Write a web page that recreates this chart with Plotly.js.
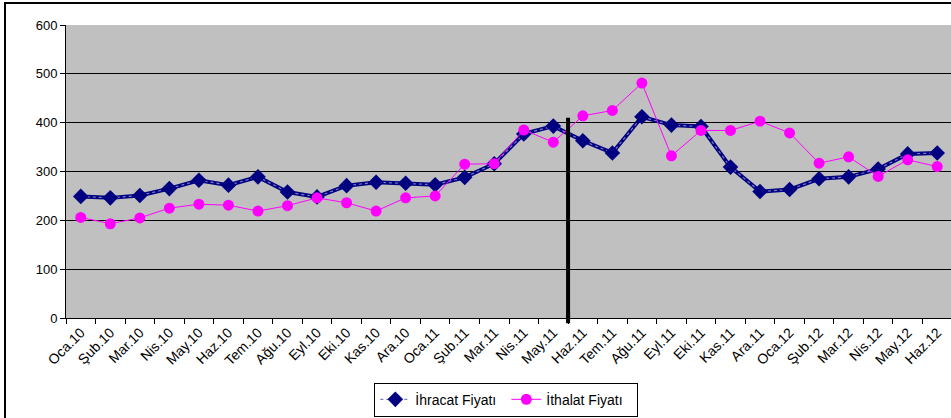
<!DOCTYPE html>
<html>
<head>
<meta charset="utf-8">
<script src="https://cdn.plot.ly/plotly-3.0.1.min.js"></script>
<style>
html,body{margin:0;padding:0;overflow:hidden;background:#fff;width:951px;height:418px;}
#chart{position:absolute;left:0;top:0;}
#frame{position:absolute;left:4px;top:2px;width:960px;height:430px;border-left:2px solid #000;border-top:2px solid #000;pointer-events:none;}
</style>
</head>
<body>
<div id="chart"></div>
<div id="frame"></div>
<script>
const months = ["Oca.10","Şub.10","Mar.10","Nis.10","May.10","Haz.10","Tem.10","Ağu.10","Eyl.10","Eki.10","Kas.10","Ara.10",
"Oca.11","Şub.11","Mar.11","Nis.11","May.11","Haz.11","Tem.11","Ağu.11","Eyl.11","Eki.11","Kas.11","Ara.11",
"Oca.12","Şub.12","Mar.12","Nis.12","May.12","Haz.12"];
const ihracat = [249,246,251,265,282,272,289,258,248,271,278,276,273,288,316,377,393,363,338,412,395,392,309,259,263,285,289,305,336,338];
const ithalat = [206,193,205,225,233,231,219,230,246,236,219,246,250,315,316,385,360,414,425,481,332,384,384,403,379,317,330,290,324,310];
const markerLineTop = 410;
const markerLinePos = 16.5;

const traces = [
  {x: months, y: ihracat, type:'scatter', mode:'lines', line:{color:'#000080', width:4}, showlegend:false, hoverinfo:'skip'},
  {x: months, y: ihracat, type:'scatter', mode:'lines+markers', name:'İhracat Fiyatı',
   line:{color:'#7a7ac8', width:1.2, dash:'dot'},
   marker:{symbol:'diamond', size:12, color:'#000080', line:{width:0}}},
  {x: months, y: ithalat, type:'scatter', mode:'lines+markers', name:'İthalat Fiyatı',
   line:{color:'#FF00FF', width:1},
   marker:{symbol:'circle', size:11, color:'#FF00FF', line:{width:0}}}
];

const layout = {
  width: 952, height: 418,
  margin: {l:66, r:0, t:25, b:100, autoexpand:false},
  paper_bgcolor: '#ffffff',
  plot_bgcolor: '#C0C0C0',
  font: {family: 'Liberation Sans, Arial, sans-serif', size: 13, color: '#000'},
  xaxis: {
    type: 'category', range: [-0.5, 29.5], automargin: false,
    tickangle: -45, ticks: 'outside', ticklen: 5, tickcolor: '#000', tickwidth: 1,
    tickson: 'boundaries',
    showgrid: false, zeroline: false,
    showline: true, linecolor: '#000', linewidth: 1,
    tickfont: {size: 14, color: '#000'}
  },
  yaxis: {
    range: [0, 600], dtick: 100, tick0: 0, automargin: false,
    ticks: 'outside', ticklen: 5, tickcolor: '#000',
    showgrid: true, gridcolor: '#000', gridwidth: 1,
    zeroline: false, showline: true, linecolor: '#000', linewidth: 1,
    tickfont: {size: 13, color: '#000'}
  },
  legend: {
    orientation: 'h', x: 0.348, y: -0.337, xanchor: 'left', yanchor: 'bottom',
    bgcolor: '#fff', bordercolor: '#000', borderwidth: 1,
    font: {size: 14, color: '#000'}, entrywidth: 86, tracegroupgap: 0
  },
  shapes: [
    {type:'line', xref:'x', yref:'y', x0: markerLinePos, x1: markerLinePos, y0: -12, y1: markerLineTop,
     line:{color:'#000', width:4}, layer:'above'},
    {type:'line', xref:'x', yref:'paper', x0: markerLinePos, x1: markerLinePos, y0: -0.018, y1: 0.02,
     line:{color:'#000', width:4}, layer:'above'}
  ],
  showlegend: true
};
Plotly.newPlot('chart', traces, layout, {displayModeBar:false, staticPlot:true});
</script>
</body>
</html>
